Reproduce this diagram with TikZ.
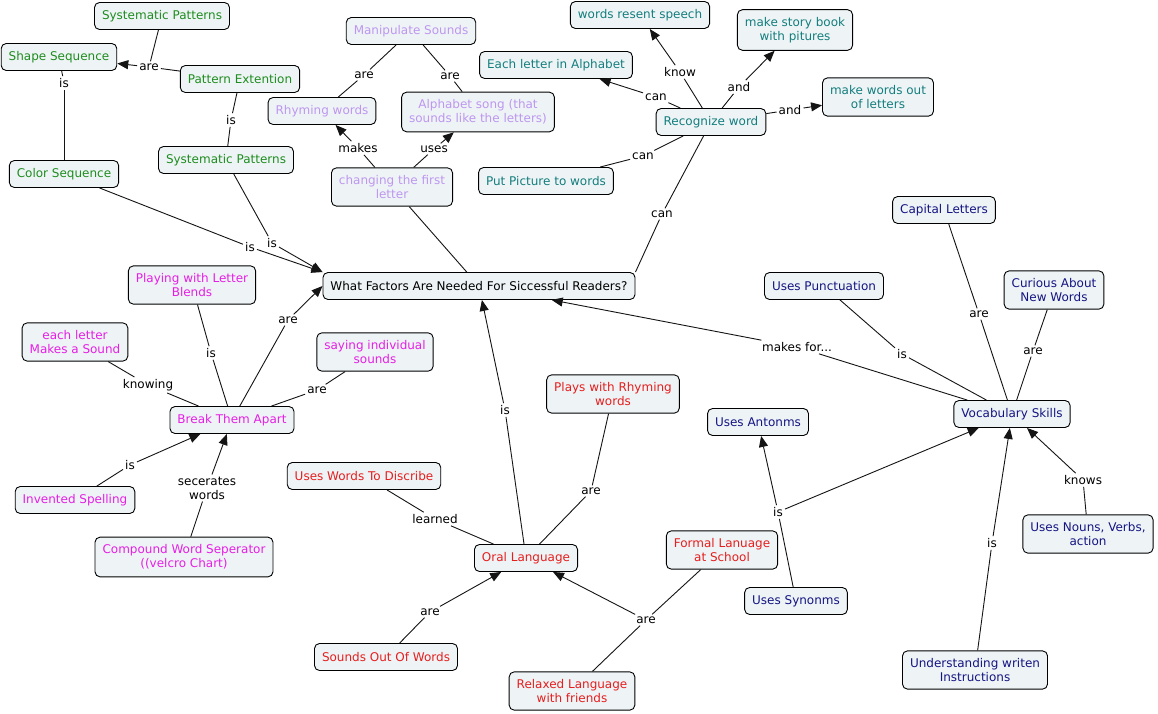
\documentclass[tikz,border=0pt]{standalone}
\usepackage{fontspec}
\setmainfont{DejaVu Sans}
\usetikzlibrary{arrows.meta}
\definecolor{cfill}{RGB}{238,244,246}
\definecolor{cgreen}{RGB}{30,140,30}
\definecolor{cpurple}{RGB}{190,150,240}
\definecolor{cteal}{RGB}{20,125,125}
\definecolor{cnavy}{RGB}{20,20,130}
\definecolor{cmag}{RGB}{230,30,230}
\definecolor{cred}{RGB}{230,30,30}
\definecolor{cline}{RGB}{20,20,20}
\tikzset{
  concept/.style={draw=black, line width=0.9pt, rounded corners=5pt, fill=cfill,
    font=\fontsize{12}{14}\selectfont, align=center, inner xsep=7.5pt, inner ysep=7.5pt,
    minimum height=27pt},
  lab/.style={font=\fontsize{12}{14}\selectfont, inner sep=2pt, align=center, text=black},
  ln/.style={draw=cline, line width=0.9pt},
  arr/.style={ln, -{Triangle[length=11pt,width=9pt]}}
}
\begin{document}
\begin{tikzpicture}[x=1pt,y=-1pt]
\useasboundingbox[fill=white] (0,0) rectangle (1158,714);
% concepts
\node[concept,text=cgreen] (sp1) at (162,16) {Systematic Patterns};
\node[concept,text=cgreen] (shape) at (59,57) {Shape Sequence};
\node[concept,text=cgreen] (pext) at (240,79) {Pattern Extention};
\node[concept,text=cgreen] (sp2) at (226,160) {Systematic Patterns};
\node[concept,text=cgreen] (color) at (64,174) {Color Sequence};
\node[concept,text=cpurple] (manip) at (411,31) {Manipulate Sounds};
\node[concept,text=cpurple] (rhyme) at (322,111) {Rhyming words};
\node[concept,text=cpurple] (alpha) at (478,112) {Alphabet song (that\\sounds like the letters)};
\node[concept,text=cpurple] (change) at (392,187) {changing the first\\letter};
\node[concept,text=cteal] (resent) at (640,15) {words resent speech};
\node[concept,text=cteal] (story) at (795,30) {make story book\\with pitures};
\node[concept,text=cteal] (each) at (556,65) {Each letter in Alphabet};
\node[concept,text=cteal] (mkwords) at (878,97) {make words out\\of letters};
\node[concept,text=cteal] (recog) at (711,122) {Recognize word};
\node[concept,text=cteal] (putpic) at (546,181) {Put Picture to words};
\node[concept,text=black] (main) at (479,286) {What Factors Are Needed For Siccessful Readers?};
\node[concept,text=cnavy] (cap) at (944,210) {Capital Letters};
\node[concept,text=cnavy] (punct) at (824,286) {Uses Punctuation};
\node[concept,text=cnavy] (curious) at (1054,290) {Curious About\\New Words};
\node[concept,text=cnavy] (vocab) at (1012,414) {Vocabulary Skills};
\node[concept,text=cmag] (blends) at (192,285) {Playing with Letter\\Blends};
\node[concept,text=cmag] (eachsnd) at (75,342) {each letter\\Makes a Sound};
\node[concept,text=cmag] (saying) at (375,352) {saying individual\\sounds};
\node[concept,text=cmag] (brk) at (232,420) {Break Them Apart};
\node[concept,text=cred] (plays) at (613,394) {Plays with Rhyming\\words};
\node[concept,text=cnavy] (anton) at (758,422) {Uses Antonms};
\node[concept,text=cmag] (invent) at (75,500) {Invented Spelling};
\node[concept,text=cmag] (compound) at (184,557) {Compound Word Seperator\\((velcro Chart)};
\node[concept,text=cred] (discr) at (364,476) {Uses Words To Discribe};
\node[concept,text=cred] (oral) at (526,558) {Oral Language};
\node[concept,text=cred] (formal) at (722,550) {Formal Lanuage\\at School};
\node[concept,text=cnavy] (synon) at (796,601) {Uses Synonms};
\node[concept,text=cnavy] (nouns) at (1088,534) {Uses Nouns, Verbs,\\action};
\node[concept,text=cnavy] (under) at (975,670) {Understanding writen\\Instructions};
\node[concept,text=cred] (sounds) at (386,657) {Sounds Out Of Words};
\node[concept,text=cred] (relax) at (572,691) {Relaxed Language\\with friends};
% linking phrases
\node[lab] (l1) at (149,67) {are};
\node[lab] (l2) at (64,83) {is};
\node[lab] (l3) at (231,120) {is};
\node[lab] (l4) at (250,247) {is};
\node[lab] (l5) at (272,243) {is};
\node[lab] (l6) at (364,75) {are};
\node[lab] (l7) at (450,76) {are};
\node[lab] (l8) at (358,148) {makes};
\node[lab] (l9) at (434,149) {uses};
\node[lab] (l10) at (680,72) {know};
\node[lab] (l11) at (739,87) {and};
\node[lab] (l12) at (656,97) {can};
\node[lab] (l13) at (790,110) {and};
\node[lab] (l14) at (643,156) {can};
\node[lab] (l15) at (662,214) {can};
\node[lab] (l16) at (211,353) {is};
\node[lab] (l17) at (288,320) {are};
\node[lab] (l18) at (148,385) {knowing};
\node[lab] (l19) at (317,390) {are};
\node[lab] (l20) at (130,465) {is};
\node[lab] (l21) at (207,488) {secerates\\words};
\node[lab] (l22) at (505,410) {is};
\node[lab] (l23) at (591,491) {are};
\node[lab] (l24) at (435,519) {learned};
\node[lab] (l25) at (430,612) {are};
\node[lab] (l26) at (646,620) {are};
\node[lab] (l27) at (797,347) {makes for...};
\node[lab] (l28) at (902,354) {is};
\node[lab] (l29) at (979,314) {are};
\node[lab] (l30) at (1033,351) {are};
\node[lab] (l31) at (778,512) {is};
\node[lab] (l32) at (992,543) {is};
\node[lab] (l33) at (1083,480) {knows};
% connectors
\draw[ln] (sp1) -- (l1);
\draw[ln] (pext) -- (l1);
\draw[arr] (l1) -- (shape);
\draw[ln] (shape) -- (l2);
\draw[ln] (l2) -- (color);
\draw[ln] (pext) -- (l3);
\draw[ln] (l3) -- (sp2);
\draw[ln] (color) -- (l4);
\draw[arr] (l4) -- (main.north west);
\draw[ln] (sp2) -- (l5);
\draw[arr] (l5) -- (main.north west);
\draw[ln] (manip) -- (l6);
\draw[ln] (l6) -- (rhyme);
\draw[ln] (manip) -- (l7);
\draw[ln] (l7) -- (alpha);
\draw[ln] (change) -- (l8);
\draw[arr] (l8) -- (rhyme);
\draw[ln] (change) -- (l9);
\draw[arr] (l9) -- (alpha);
\draw[ln] (change) -- (main);
\draw[ln] (recog) -- (l10);
\draw[arr] (l10) -- (resent);
\draw[ln] (recog) -- (l11);
\draw[arr] (l11) -- (story);
\draw[ln] (recog) -- (l12);
\draw[arr] (l12) -- (each);
\draw[ln] (recog) -- (l13);
\draw[arr] (l13) -- (mkwords);
\draw[ln] (recog) -- (l14);
\draw[ln] (l14) -- (putpic);
\draw[ln] (recog) -- (l15);
\draw[ln] (l15) -- (main.north east);
\draw[ln] (blends) -- (l16);
\draw[ln] (l16) -- (brk);
\draw[ln] (brk) -- (l17);
\draw[arr] (l17) -- (main.west);
\draw[ln] (eachsnd) -- (l18);
\draw[ln] (l18) -- (brk);
\draw[ln] (saying) -- (l19);
\draw[ln] (l19) -- (brk);
\draw[ln] (invent) -- (l20);
\draw[arr] (l20) -- (brk);
\draw[ln] (compound) -- (l21);
\draw[arr] (l21) -- (brk);
\draw[ln] (oral) -- (l22);
\draw[arr] (l22) -- (main);
\draw[ln] (oral) -- (l23);
\draw[ln] (l23) -- (plays);
\draw[ln] (discr) -- (l24);
\draw[ln] (l24) -- (oral);
\draw[ln] (sounds) -- (l25);
\draw[arr] (l25) -- (oral);
\draw[ln] (relax) -- (l26);
\draw[ln] (formal) -- (l26);
\draw[arr] (l26) -- (oral);
\draw[ln] (vocab) -- (l27);
\draw[arr] (l27) -- (main);
\draw[ln] (punct) -- (l28);
\draw[ln] (l28) -- (vocab);
\draw[ln] (cap) -- (l29);
\draw[ln] (l29) -- (vocab);
\draw[ln] (curious) -- (l30);
\draw[ln] (l30) -- (vocab);
\draw[ln] (synon) -- (l31);
\draw[arr] (l31) -- (anton);
\draw[arr] (l31) -- (vocab);
\draw[ln] (under) -- (l32);
\draw[arr] (l32) -- (vocab);
\draw[ln] (nouns) -- (l33);
\draw[arr] (l33) -- (vocab);
\end{tikzpicture}
\end{document}
